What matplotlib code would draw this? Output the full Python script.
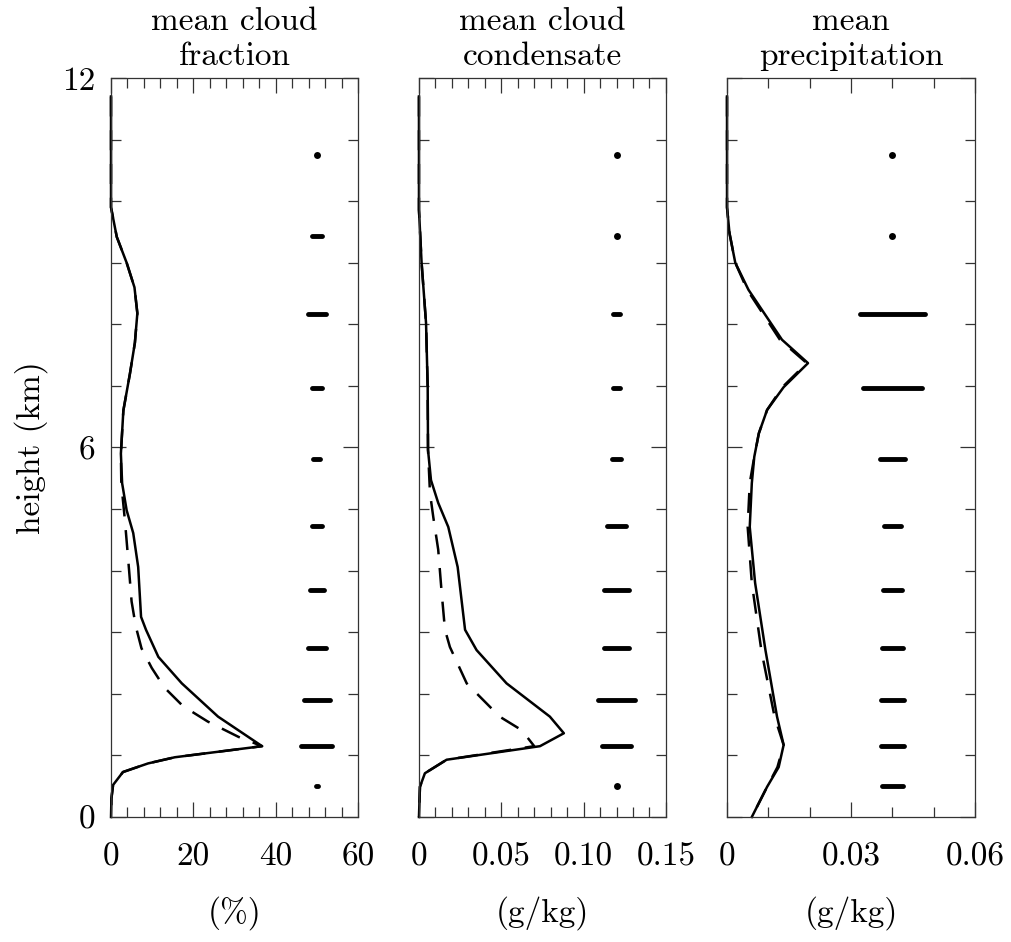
import matplotlib
matplotlib.use('Agg')
import matplotlib.pyplot as plt
from matplotlib.ticker import MultipleLocator

plt.rcParams['font.family'] = 'cmr10'
plt.rcParams['axes.formatter.use_mathtext'] = True

#-----data-----#
# mean cloud fraction (%)
frac_h = [11.7, 9.9, 9.42, 9.0, 8.6, 8.18, 7.7, 7.2, 6.6, 5.9, 5.42, 4.98, 4.61, 4.06, 3.25, 3.04,
          2.6, 2.17, 1.63, 1.15, 0.97, 0.87, 0.73, 0.52, 0.3, 0.0]
frac_solid = [0, 0, 1.4, 3.8, 5.7, 6.4, 5.8, 4.6, 3.0, 2.4, 2.7, 3.8, 5.4, 6.6, 7.3, 8.5,
              11.5, 17.2, 26.0, 36.7, 15.5, 9.0, 2.9, 0.5, 0.1, 0]
frac_dash_h = [11.7, 9.9, 9.42, 9.0, 8.6, 8.18, 7.7, 7.2, 6.6, 5.9, 5.42, 4.8, 4.0, 3.5, 3.1, 2.74,
               2.42, 2.1, 1.8, 1.55, 1.3, 1.15, 0.97, 0.87, 0.73, 0.52, 0.3, 0.0]
frac_dash = [0, 0, 1.4, 3.8, 5.7, 6.4, 5.8, 4.6, 3.0, 2.4, 2.5, 3.4, 4.4, 5.0, 6.0, 7.4,
             9.9, 13.0, 17.5, 23.5, 31.0, 36.7, 15.5, 9.0, 2.9, 0.5, 0.1, 0]

# mean cloud condensate (g/kg)
cond_h = [11.7, 9.86, 9.0, 8.02, 6.98, 5.96, 5.47, 5.1, 4.71, 4.06, 3.04, 2.71, 2.17, 1.63, 1.36,
          1.15, 0.93, 0.71, 0.49, 0.0]
cond_solid = [0, 0, 0.0016, 0.0043, 0.0053, 0.0055, 0.0073, 0.0117, 0.0178, 0.0235, 0.028, 0.035,
              0.0532, 0.0795, 0.088, 0.0735, 0.0168, 0.0036, 0.0006, 0]
cond_dash_h = [11.7, 9.86, 9.0, 8.02, 6.98, 5.96, 5.26, 4.87, 4.34, 3.64, 3.04, 2.76, 2.17, 1.63,
               1.41, 1.15, 0.93, 0.71, 0.49, 0.0]
cond_dash = [0, 0, 0.0016, 0.0043, 0.0053, 0.0055, 0.0067, 0.0087, 0.0117, 0.0138, 0.0158, 0.0188,
             0.029, 0.049, 0.0624, 0.070, 0.0168, 0.0036, 0.0006, 0]

# mean precipitation (g/kg)
prec_h = [11.7, 9.9, 9.48, 9.0, 8.56, 7.75, 7.37, 6.98, 6.61, 6.23, 5.85, 5.42, 4.71, 3.8, 2.71,
          1.63, 1.17, 0.81, 0.49, 0.0]
prec_solid = [0, 0, 0.0006, 0.002, 0.0052, 0.0133, 0.0196, 0.0137, 0.0097, 0.0077, 0.0066, 0.006,
              0.0055, 0.0068, 0.0093, 0.0121, 0.0137, 0.0125, 0.0097, 0.006]
prec_dash = [0, 0, 0.0006, 0.002, 0.0049, 0.0128, 0.0193, 0.0134, 0.0097, 0.0077, 0.0066, 0.0055,
             0.005, 0.006, 0.0083, 0.0115, 0.0137, 0.0122, 0.0097, 0.006]

# spread bars on the right of each panel
bar_h = [0.5, 1.15, 1.9, 2.74, 3.69, 4.73, 5.81, 6.97, 8.17, 9.43, 10.75]
frac_spread = [0.25, 3.75, 3.15, 2.15, 1.65, 1.25, 0.85, 1.25, 2.25, 1.25, 0]
cond_spread = [0, 0.0086, 0.0113, 0.0076, 0.0076, 0.0056, 0.0026, 0.0019, 0.0019, 0, 0]
prec_spread = [0.0026, 0.0028, 0.0028, 0.0026, 0.0023, 0.002, 0.0031, 0.0072, 0.0079, 0, 0]

titles = ['mean cloud\nfraction', 'mean cloud\ncondensate', 'mean\nprecipitation']
units = ['(%)', '(g/kg)', '(g/kg)']

#-----figure-----#
fig = plt.figure(figsize=(10.11, 9.42), dpi=100)
lefts = [0.1098, 0.4144, 0.7191]
widths = [0.2443, 0.2443, 0.2453]
FS = 24

panels = [
    (frac_h, frac_solid, frac_dash_h, frac_dash, frac_spread, 50, 60, 20, 4, ['0', '20', '40', '60']),
    (cond_h, cond_solid, cond_dash_h, cond_dash, cond_spread, 0.12, 0.15, 0.05, 0.01,
     ['0', '0.05', '0.10', '0.15']),
    (prec_h, prec_solid, prec_h, prec_dash, prec_spread, 0.04, 0.06, 0.03, 0.01, ['0', '0.03', '0.06']),
]

for i, (h, sol, dh, das, spr, c, xmax, maj, mnr, labs) in enumerate(panels):
    ax = fig.add_axes([lefts[i], 0.1327, widths[i], 0.7845])
    ax.plot(sol, h, color='k', lw=1.8, clip_on=False)
    ax.plot(das, dh, color='k', lw=1.8, dashes=(8, 5.5), clip_on=False)
    for bh, s in zip(bar_h, spr):
        if s > 0:
            ax.plot([c - s, c + s], [bh, bh], color='k', lw=3.5, solid_capstyle='round')
        else:
            ax.plot(c, bh, 'o', color='k', ms=5, mew=0)

    ax.set_xlim(0, xmax)
    ax.set_ylim(0, 12)
    ax.xaxis.set_minor_locator(MultipleLocator(mnr))
    ax.set_xticks([k * maj for k in range(len(labs))])
    ax.set_xticklabels(labs)
    ax.set_yticks([0, 6, 12])
    ax.yaxis.set_minor_locator(MultipleLocator(1))
    ax.tick_params(which='both', direction='in', top=True, right=True, color='#333333', width=0.9)
    ax.tick_params(which='major', length=11)
    ax.tick_params(which='minor', length=7)
    ax.tick_params(axis='x', labelsize=FS, pad=18)
    ax.tick_params(axis='y', labelsize=FS, pad=11)
    for sp in ax.spines.values():
        sp.set_color('#333333')
        sp.set_linewidth(0.9)
    if i == 0:
        ax.set_yticklabels(['0', '6', '12'])
        ax.set_ylabel('height (km)', fontsize=FS, labelpad=10)
    else:
        ax.set_yticklabels([])
    ax.set_title(titles[i], fontsize=FS, pad=9, linespacing=1.3)
    ax.set_xlabel(units[i], fontsize=FS, labelpad=18)

fig.savefig('out.png', dpi=100)
